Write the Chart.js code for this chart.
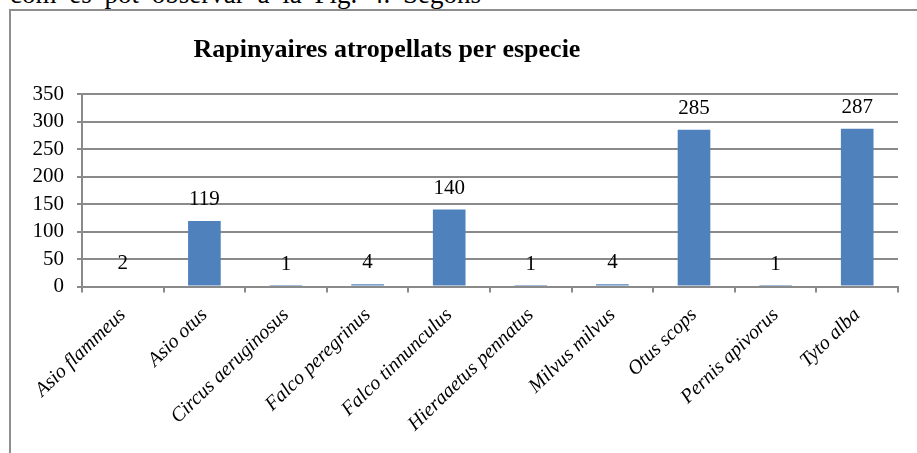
<!DOCTYPE html>
<html lang="ca">

<head>
    <meta charset="UTF-8">
    <title>Rapinyaires atropellats per especie</title>
    <script src="https://cdn.jsdelivr.net/npm/chart.js"></script>
    <style>
        body {
            margin: 0;
            padding: 0;
            background: white;
            width: 917px;
            height: 453px;
            overflow: hidden;
            position: relative;
            font-family: 'Liberation Serif', 'Times New Roman', serif;
        }

        .page-text {
            position: absolute;
            left: 10px;
            top: -19px;
            font-size: 27px;
            line-height: 27px;
            word-spacing: 6px;
            white-space: nowrap;
            color: #000;
        }

        .frame {
            position: absolute;
            left: 9px;
            top: 9px;
            width: 1000px;
            height: 1000px;
            border: 2px solid #8e8e8e;
        }

        #chart {
            position: absolute;
            left: 0;
            top: 0;
        }
    </style>
</head>

<body>
    <div class="page-text">com es pot observar a la Fig. 4. Segons</div>
    <div class="frame"></div>
    <canvas id="chart" width="917" height="453"></canvas>

    <script>
        // Data
        const species = ['Asio flammeus', 'Asio otus', 'Circus aeruginosus', 'Falco peregrinus', 'Falco tinnunculus',
            'Hieraaetus pennatus', 'Milvus milvus', 'Otus scops', 'Pernis apivorus', 'Tyto alba'];
        const counts = [2, 119, 1, 4, 140, 1, 4, 285, 1, 287];
        const yMin = 0;
        const yMax = 350;
        const yStep = 50;

        const titleText = 'Rapinyaires atropellats per especie';
        const gridColor = '#8a8a8a';

        // title is off-centre in the original, so draw it ourselves
        const titlePlugin = {
            id: 'titlePlugin',
            afterDraw(chart) {
                const ctx = chart.ctx;
                ctx.save();
                ctx.font = 'bold 26px "Liberation Serif"';
                ctx.fillStyle = '#000';
                ctx.textAlign = 'center';
                ctx.textBaseline = 'alphabetic';
                ctx.fillText(titleText, 387, 57);
                ctx.restore();
            }
        };

        // value labels above each bar
        const valuePlugin = {
            id: 'valuePlugin',
            afterDatasetsDraw(chart) {
                const ctx = chart.ctx;
                const meta = chart.getDatasetMeta(0);
                ctx.save();
                ctx.font = '21px "Liberation Serif"';
                ctx.fillStyle = '#000';
                ctx.textAlign = 'center';
                ctx.textBaseline = 'alphabetic';
                meta.data.forEach((bar, i) => {
                    ctx.fillText(String(counts[i]), bar.x, bar.y - 16);
                });
                ctx.restore();
            }
        };

        const ctx = document.getElementById('chart').getContext('2d');
        const chart = new Chart(ctx, {
            type: 'bar',
            data: {
                labels: species,
                datasets: [{
                    data: counts,
                    backgroundColor: '#4f81bd',
                    borderWidth: 0,
                    barPercentage: 0.4,
                    categoryPercentage: 1.0,
                }],
            },
            options: {
                responsive: false,
                animation: false,
                devicePixelRatio: 1,
                layout: {
                    padding: { top: 94, right: 19, bottom: 0, left: 0 }
                },
                plugins: {
                    legend: { display: false },
                    title: { display: false },
                    tooltip: { enabled: false },
                },
                scales: {
                    x: {
                        grid: {
                            display: true,
                            drawOnChartArea: false,
                            drawTicks: true,
                            tickLength: 6,
                            color: gridColor,
                            lineWidth: 2,
                        },
                        border: { display: true, color: gridColor, width: 2 },
                        ticks: {
                            minRotation: 44,
                            maxRotation: 44,
                            autoSkip: false,
                            padding: 11,
                            color: '#000',
                            font: { family: 'Liberation Serif', size: 20, style: 'italic' },
                        },
                        afterFit: (s) => { s.height = 166.5; },
                    },
                    y: {
                        min: yMin,
                        max: yMax,
                        ticks: {
                            stepSize: yStep,
                            autoSkip: false,
                            padding: 13,
                            color: '#000',
                            font: { family: 'Liberation Serif', size: 21 },
                        },
                        grid: {
                            color: gridColor,
                            lineWidth: 2,
                            tickLength: 5,
                        },
                        border: { display: true, color: gridColor, width: 2 },
                        afterFit: (s) => { s.width = 82; },
                    },
                },
            },
            plugins: [titlePlugin, valuePlugin],
        });
    </script>
</body>

</html>
